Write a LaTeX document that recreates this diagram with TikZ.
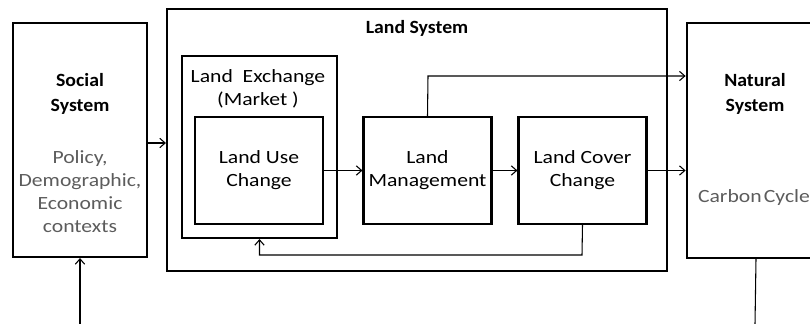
\documentclass[tikz,border=0pt]{standalone}
\usepackage{fontspec}
\setmainfont{Carlito}
\newfontfamily\bodyfont[FakeStretch=1.16]{Carlito}
\newfontfamily\titlefont[FakeStretch=1.06]{Carlito}
\usetikzlibrary{arrows.meta,positioning}
\definecolor{txtgray}{RGB}{92,92,92}

\begin{document}
\begin{tikzpicture}[x=0.75pt,y=-0.75pt,
    box/.style={draw,line width=1.6pt,inner sep=0pt},
    arr/.style={-{Straight Barb[length=4pt,width=7pt]},line width=0.8pt},
    line/.style={line width=0.8pt},
    title/.style={font=\titlefont\fontsize{14}{18.75}\selectfont\bfseries,align=center},
    body/.style={font=\bodyfont\fontsize{14}{17.25}\selectfont,align=center},
    note/.style={body,text=txtgray}]
   \useasboundingbox (0,0) rectangle (810,324);
   \clip (0,0) rectangle (810,324);
   % outer systems
   \node[box,minimum width=100.5pt,minimum height=175.5pt] (soc) at (80,140) {};
   \node[box,minimum width=375pt,minimum height=196.5pt] (land) at (417,140) {};
   \node[box,minimum width=104pt,minimum height=176pt] (nat) at (756,140.5) {};
   % inside the land system
   \node[box,minimum width=116pt,minimum height=136.5pt] (lex) at (259.5,147) {};
   \node[box,minimum width=96pt,minimum height=80pt,body] (luc) at (259,170.5) {Land Use\\Change};
   \node[box,minimum width=96pt,minimum height=80pt,body] (lm) at (427.5,170.5) {Land\\Management};
   \node[box,minimum width=96pt,minimum height=80pt,body] (lcc) at (582.5,170.5) {Land Cover\\Change};
   % labels
   \node[title] (soct) at (80,94) {Social\\System};
   \node[note] (socn) at (80,192) {Policy,\\Demographic,\\Economic\\contexts};
   \node[title] (landt) at (417,28) {Land System};
   \node[body] (lext) at (258,89) {Land~~Exchange\\(Market )};
   \node[title] (natt) at (755,94) {Natural\\System};
   \node[note,inner sep=0pt] (natn) at (754,198) {Carbon\hspace{0.12em}Cycle};
   % connectors
   \coordinate (socin) at (80,324);
   \coordinate (natout) at (755,324);
   \coordinate (up) at (428,76);
   \coordinate (fb) at (582,255);
   \draw[arr] (socin) -- (soc.south);
   \draw[arr] ([yshift=-2.25pt]soc.east) -- ([yshift=-2.25pt]soc.east -| land.west);
   \draw[arr] (luc.east) -- (lm.west);
   \draw[arr] (lm.west -| lm.east) -- (lcc.west);
   \draw[arr] (lcc.east) -- (lcc.east -| nat.west);
   \draw[arr] (lm.north) -- (up) -- (up -| nat.west);
   \draw[arr] (lcc.south) -- (fb) -| (lex.south);
   \draw[line] (nat.south) -- (natout);
\end{tikzpicture}
\end{document}
